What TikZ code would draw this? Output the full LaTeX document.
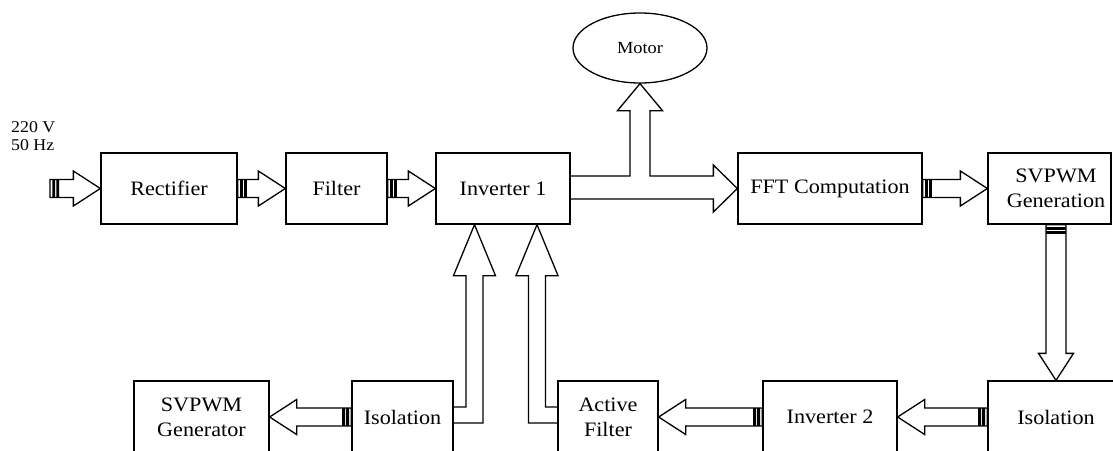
\documentclass[tikz,border=0pt]{standalone}
\usepackage{fontspec}
\setmainfont{Liberation Serif}[FakeStretch=1.08]
\usetikzlibrary{shapes.geometric,calc}
\tikzset{
  blk/.style={draw=black,line width=1.3pt,line join=miter},
  box/.style={draw=black,line width=1.3pt,rectangle,inner sep=0pt,align=center,
    font=\fontsize{20.5}{25}\selectfont},
  lbl/.style={inner sep=0pt,align=center,font=\fontsize{20.5}{25}\selectfont}
}
\newcommand\hsarrow[2]{%
 \draw[blk] let \p1=(#1), \p2=(#2), \n1={ifthenelse(\x2>\x1,1,-1)} in
  ({\x1},{\y2-9pt}) rectangle ({\x1+\n1*3pt},{\y2+9pt})
  ({\x1+\n1*4.5pt},{\y2-9pt}) rectangle ({\x1+\n1*7pt},{\y2+9pt})
  ({\x1+\n1*8.5pt},{\y2+9pt}) -- ({\x2-\n1*27pt},{\y2+9pt}) -- ({\x2-\n1*27pt},{\y2+17.5pt})
  -- (\x2,\y2) -- ({\x2-\n1*27pt},{\y2-17.5pt}) -- ({\x2-\n1*27pt},{\y2-9pt})
  -- ({\x1+\n1*8.5pt},{\y2-9pt}) -- cycle;
}
\newcommand\vsarrow[2]{%
 \draw[blk] let \p1=(#1), \p2=(#2), \n1={ifthenelse(\y2>\y1,1,-1)} in
  ({\x2-10pt},{\y1}) rectangle ({\x2+10pt},{\y1+\n1*3pt})
  ({\x2-10pt},{\y1+\n1*4.5pt}) rectangle ({\x2+10pt},{\y1+\n1*7pt})
  ({\x2+10pt},{\y1+\n1*8.5pt}) -- ({\x2+10pt},{\y2-\n1*27pt}) -- ({\x2+17.5pt},{\y2-\n1*27pt})
  -- (\x2,\y2) -- ({\x2-17.5pt},{\y2-\n1*27pt}) -- ({\x2-10pt},{\y2-\n1*27pt})
  -- ({\x2-10pt},{\y1+\n1*8.5pt}) -- cycle;
}
\begin{document}
\begin{tikzpicture}[x=1pt,y=-1pt]
\clip (0,0) rectangle (1113,450);
\fill[white] (0,0) rectangle (1113,450);

% top row
\node[box,minimum width=136pt,minimum height=71pt] (rect) at (169,188.5) {Rectifier};
\node[box,minimum width=101pt,minimum height=71pt] (filt) at (336.5,188.5) {Filter};
\node[box,minimum width=134pt,minimum height=71pt] (inv1) at (503,188.5) {Inverter 1};
\node[box,minimum width=184pt,minimum height=71pt] (fft) at (830,188.5) {FFT Computation};
\node[box,minimum width=123pt,minimum height=71pt] (svg) at (1049.5,188.5) {};
\node[lbl] (svgt) at (1056,188.5) {SVPWM\\Generation};
\node[draw=black,line width=1.3pt,ellipse,minimum width=134pt,minimum height=70pt,inner sep=0pt,
  font=\fontsize{17}{20}\selectfont] (motor) at (640,48) {Motor};

% bottom row
\node[box,minimum width=135pt,minimum height=72pt] (sgen) at (201.5,417) {SVPWM\\Generator};
\node[box,minimum width=101pt,minimum height=72pt] (iso1) at (402.5,417) {Isolation};
\node[box,minimum width=100pt,minimum height=72pt] (af) at (608,417) {Active\\Filter};
\node[box,minimum width=134pt,minimum height=72pt] (inv2) at (830,417) {Inverter 2};
\node[box,minimum width=136pt,minimum height=72pt] (iso2) at (1056,417) {Isolation};

% input label
\node[anchor=north west,inner sep=0pt,align=left,font=\fontsize{16.5}{18.5}\selectfont] (src) at (11,121) {220 V\\50 Hz};
\coordinate (in) at (50,188.5);

% striped arrows
\hsarrow{in}{rect.west}
\hsarrow{rect.east}{filt.west}
\hsarrow{filt.east}{inv1.west}
\hsarrow{fft.east}{svg.west}
\vsarrow{svg.south -| iso2.north}{iso2.north}
\hsarrow{iso2.west}{inv2.east}
\hsarrow{inv2.west}{af.east}
\hsarrow{iso1.west}{sgen.east}

% T arrow: inverter 1 -> motor and FFT
\draw[blk] let \p1=(inv1.east), \p2=(motor.south), \p3=(fft.west) in
  (\x1,{\y1+12.5pt}) -- ({\x2-10pt},{\y1+12.5pt}) -- ({\x2-10pt},{\y2-27pt})
  -- ({\x2-22.5pt},{\y2-27pt}) -- (\p2) -- ({\x2+22.5pt},{\y2-27pt}) -- ({\x2+10pt},{\y2-27pt})
  -- ({\x2+10pt},{\y1+12.5pt}) -- ({\x3-24pt},{\y1+12.5pt}) -- ({\x3-24pt},{\y3+23.5pt})
  -- (\p3) -- ({\x3-24pt},{\y3-23.5pt}) -- ({\x3-24pt},{\y1-10.5pt}) -- (\x1,{\y1-10.5pt});

% elbow arrows up into inverter 1
\draw[blk] let \p1=(iso1.east), \p2=([xshift=-28.5pt]inv1.south) in
  (\x1,{\y1+10pt}) -- ({\x2-8.5pt},{\y1+10pt}) -- ({\x2-8.5pt},{\y2-51pt})
  -- ({\x2-21pt},{\y2-51pt}) -- (\p2) -- ({\x2+21pt},{\y2-51pt}) -- ({\x2+8.5pt},{\y2-51pt})
  -- ({\x2+8.5pt},{\y1-6pt}) -- (\x1,{\y1-6pt});
\draw[blk] let \p1=(af.west), \p2=([xshift=34pt]inv1.south) in
  (\x1,{\y1+10pt}) -- ({\x2+8.5pt},{\y1+10pt}) -- ({\x2+8.5pt},{\y2-51pt})
  -- ({\x2+21pt},{\y2-51pt}) -- (\p2) -- ({\x2-21pt},{\y2-51pt}) -- ({\x2-8.5pt},{\y2-51pt})
  -- ({\x2-8.5pt},{\y1-6pt}) -- (\x1,{\y1-6pt});
\end{tikzpicture}
\end{document}
